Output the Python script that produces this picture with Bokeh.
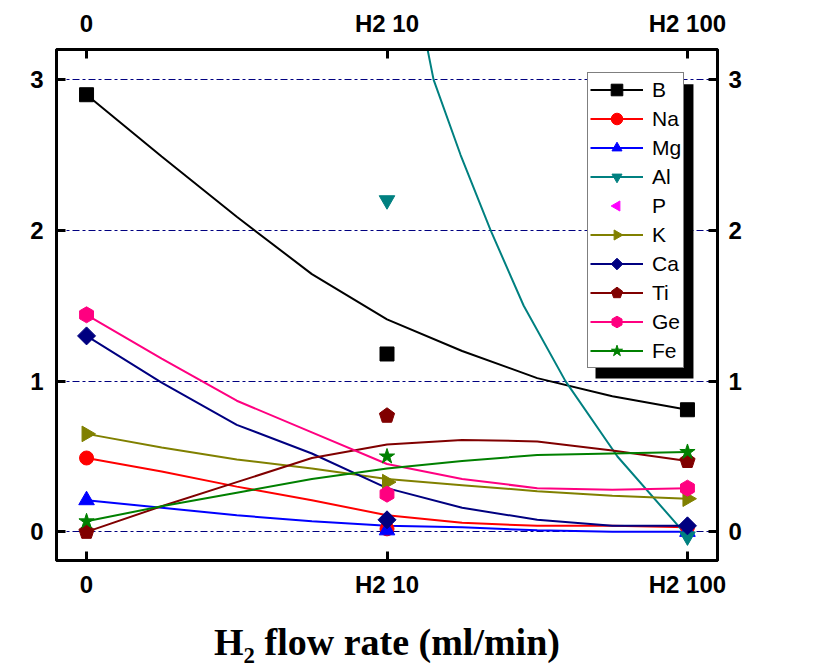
import math
from bokeh.plotting import figure
from bokeh.models import (LinearAxis, FixedTicker, Legend, LegendItem,
                          BoxAnnotation, Range1d, Grid)
from bokeh.embed import file_html
from bokeh.resources import INLINE

# ---------------- data ----------------
categories = ["0", "H2 10", "H2 100"]
cat_pos = [0, 1, 2]
y_ticks = [0, 1, 2, 3]
x_title = "H\u2082 flow rate (ml/min)"

# fitted curves
curve_x = [0, 0.25, 0.5, 0.75, 1.0, 1.25, 1.5, 1.75, 2.0]
b_curve = [2.90, 2.49, 2.09, 1.71, 1.41, 1.20, 1.02, 0.90, 0.81]
na_curve = [0.49, 0.40, 0.30, 0.21, 0.11, 0.06, 0.04, 0.04, 0.03]
mg_curve = [0.21, 0.16, 0.11, 0.07, 0.04, 0.03, 0.01, 0.00, 0.00]
k_curve = [0.65, 0.56, 0.48, 0.42, 0.35, 0.31, 0.27, 0.24, 0.22]
ca_curve = [1.30, 0.99, 0.71, 0.52, 0.29, 0.16, 0.08, 0.04, 0.04]
ti_curve = [0.00, 0.17, 0.33, 0.49, 0.58, 0.61, 0.60, 0.54, 0.47]
ge_curve = [1.44, 1.15, 0.87, 0.66, 0.45, 0.35, 0.29, 0.28, 0.29]
fe_curve = [0.07, 0.17, 0.26, 0.35, 0.42, 0.47, 0.51, 0.52, 0.53]
al_curve_x = [1.10, 1.155, 1.245, 1.345, 1.455, 1.594, 1.767, 2.0]
al_curve = [3.55, 3.00, 2.50, 2.00, 1.50, 1.00, 0.50, -0.03]
p_curve_x = []
p_curve = []

NaN = float("nan")
# measured points at 0 / H2 10 / H2 100
b_pts = [2.90, 1.18, 0.81]
na_pts = [0.49, 0.02, 0.03]
mg_pts = [0.21, 0.01, 0.00]
al_pts = [NaN, 2.20, -0.03]
p_pts = [NaN, NaN, NaN]
k_pts = [0.65, 0.33, 0.22]
ca_pts = [1.30, 0.08, 0.04]
ti_pts = [0.00, 0.77, 0.47]
ge_pts = [1.44, 0.25, 0.29]
fe_pts = [0.07, 0.50, 0.53]

# ---------------- figure ----------------
p = figure(width=810, height=671, x_range=Range1d(-0.1, 2.1),
           y_range=Range1d(-0.19, 3.2), output_backend="svg",
           toolbar_location=None, x_axis_type=None, y_axis_type=None,
           min_border_left=56, min_border_top=49,
           min_border_right=93, min_border_bottom=111)
p.background_fill_color = "white"
p.border_fill_color = "white"
p.outline_line_color = "black"
p.outline_line_width = 3

grid = Grid(dimension=1, ticker=FixedTicker(ticks=y_ticks),
            grid_line_color="#000080", grid_line_width=1,
            grid_line_dash="7 3 3 3")
p.add_layout(grid)

overrides = {pos: lab for pos, lab in zip(cat_pos, categories)}

bottom_axis = LinearAxis(ticker=FixedTicker(ticks=cat_pos), major_label_overrides=overrides)
top_axis = LinearAxis(ticker=FixedTicker(ticks=cat_pos), major_label_overrides=overrides)
left_axis = LinearAxis(ticker=FixedTicker(ticks=y_ticks))
right_axis = LinearAxis(ticker=FixedTicker(ticks=y_ticks))
p.add_layout(bottom_axis, "below")
p.add_layout(top_axis, "above")
p.add_layout(left_axis, "left")
p.add_layout(right_axis, "right")

for ax in [bottom_axis, top_axis, left_axis, right_axis]:
    ax.axis_line_width = 3
    ax.axis_line_color = "black"
    ax.major_tick_line_width = 3
    ax.major_tick_line_color = "black"
    ax.major_tick_in = 9
    ax.major_tick_out = 0
    ax.minor_tick_line_color = None
    ax.major_label_text_font = "Liberation Sans"
    ax.major_label_text_font_style = "bold"
    ax.major_label_text_font_size = "24px"
    ax.major_label_text_color = "black"

bottom_axis.major_label_standoff = 10
top_axis.major_label_standoff = 13
left_axis.major_label_standoff = 13
right_axis.major_label_standoff = 11

bottom_axis.axis_label = x_title
bottom_axis.axis_label_text_font = "Liberation Serif"
bottom_axis.axis_label_text_font_style = "bold"
bottom_axis.axis_label_text_font_size = "38px"
bottom_axis.axis_label_text_color = "black"
bottom_axis.axis_label_standoff = 20

# ---------------- series ----------------
# (name, colour, curve x, curve y, points, marker, angle, size)
series = [
    ("B", "black", curve_x, b_curve, b_pts, "square", 0, 14),
    ("Na", "#FF0000", curve_x, na_curve, na_pts, "circle", 0, 14),
    ("Mg", "#0000FF", curve_x, mg_curve, mg_pts, "tri", 0, 9),
    ("Al", "#008080", al_curve_x, al_curve, al_pts, "tri", math.pi, 9),
    ("P", "#FF00FF", p_curve_x, p_curve, p_pts, "tri", math.pi / 2, 9),
    ("K", "#808000", curve_x, k_curve, k_pts, "tri", -math.pi / 2, 9),
    ("Ca", "#000080", curve_x, ca_curve, ca_pts, "dia", 0, 9),
    ("Ti", "#800000", curve_x, ti_curve, ti_pts, "pent", 0, 8),
    ("Ge", "#FF0080", curve_x, ge_curve, ge_pts, "hexa", 0, 8),
    ("Fe", "#008000", curve_x, fe_curve, fe_pts, "star", 0, 16),
]
n_sides = {"tri": 3, "dia": 4, "pent": 5, "hexa": 6}

line_rs = []
for name, col, cx, cy, pts, mk, ang, sz in series:
    line_rs.append(p.line(cx, cy, line_color=col, line_width=2))

items = []
for (name, col, cx, cy, pts, mk, ang, sz), lr in zip(series, line_rs):
    if mk in n_sides:
        mr = p.ngon(x=cat_pos, y=pts, radius=sz, radius_units="screen",
                    n=n_sides[mk], angle=ang, fill_color=col, line_color=col)
    else:
        mr = p.scatter(x=cat_pos, y=pts, marker=mk, size=sz,
                       fill_color=col, line_color=col)
    items.append(LegendItem(label=name, renderers=[lr, mr]))

# legend shadow
shadow = BoxAnnotation(left=1.694, right=2.02, top=2.97, bottom=1.017,
                       fill_color="black", fill_alpha=1.0, line_color=None)
p.add_layout(shadow)

legend = Legend(items=items, location=(531, 192), orientation="vertical")
legend.label_text_font = "Liberation Sans"
legend.label_text_font_size = "21px"
legend.label_text_color = "black"
legend.glyph_width = 53
legend.glyph_height = 29
legend.label_height = 29
legend.label_standoff = 9
legend.spacing = 0
legend.padding = 2
legend.margin = 0
legend.border_line_color = "black"
legend.border_line_width = 1
legend.background_fill_color = "white"
legend.background_fill_alpha = 1.0
p.add_layout(legend)

open("out.html", "w").write(file_html(p, INLINE))
